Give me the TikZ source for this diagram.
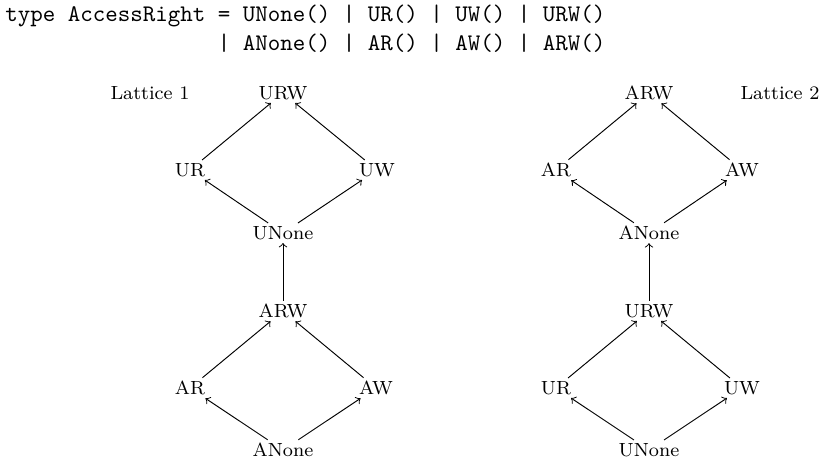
\documentclass[tikz,border=0pt]{standalone}
\begin{document}
\begin{tikzpicture}[x=0.42pt,y=-0.42pt,
  el/.style={font=\footnotesize,inner sep=1.2pt},
  code/.style={font=\ttfamily,anchor=base west,inner sep=0pt},
  up/.style={->,line width=0.4pt}]
\useasboundingbox (0,0) rectangle (824,461);

% type declaration
\node[code] (decl1) at (5,21) {type AccessRight = UNone() | UR() | UW() | URW()};
\node[code] (decl2) at (5,50) {\phantom{type AccessRight }| ANone() | AR() | AW() | ARW()};

% lattice 1
\node[el] (cap1) at (150,93) {Lattice 1};
\node[el] (aurw)   at (283,93)  {URW};
\node[el] (aur)    at (190,170) {UR};
\node[el] (auw)    at (377,170) {UW};
\node[el] (aunone) at (283,233) {UNone};
\node[el] (aarw)   at (283,311) {ARW};
\node[el] (aar)    at (190,388) {AR};
\node[el] (aaw)    at (376,388) {AW};
\node[el] (aanone) at (283,450) {ANone};

\draw[up] (aur) -- (aurw);
\draw[up] (auw) -- (aurw);
\draw[up] (aunone) -- (aur);
\draw[up] (aunone) -- (auw);
\draw[up] (aarw) -- (aunone);
\draw[up] (aar) -- (aarw);
\draw[up] (aaw) -- (aarw);
\draw[up] (aanone) -- (aar);
\draw[up] (aanone) -- (aaw);

% lattice 2
\node[el] (cap2) at (780,93) {Lattice 2};
\node[el] (barw)   at (649,93)  {ARW};
\node[el] (bar)    at (556,170) {AR};
\node[el] (baw)    at (742,170) {AW};
\node[el] (banone) at (649,233) {ANone};
\node[el] (burw)   at (649,311) {URW};
\node[el] (bur)    at (556,388) {UR};
\node[el] (buw)    at (742,388) {UW};
\node[el] (bunone) at (649,450) {UNone};

\draw[up] (bar) -- (barw);
\draw[up] (baw) -- (barw);
\draw[up] (banone) -- (bar);
\draw[up] (banone) -- (baw);
\draw[up] (burw) -- (banone);
\draw[up] (bur) -- (burw);
\draw[up] (buw) -- (burw);
\draw[up] (bunone) -- (bur);
\draw[up] (bunone) -- (buw);
\end{tikzpicture}
\end{document}
